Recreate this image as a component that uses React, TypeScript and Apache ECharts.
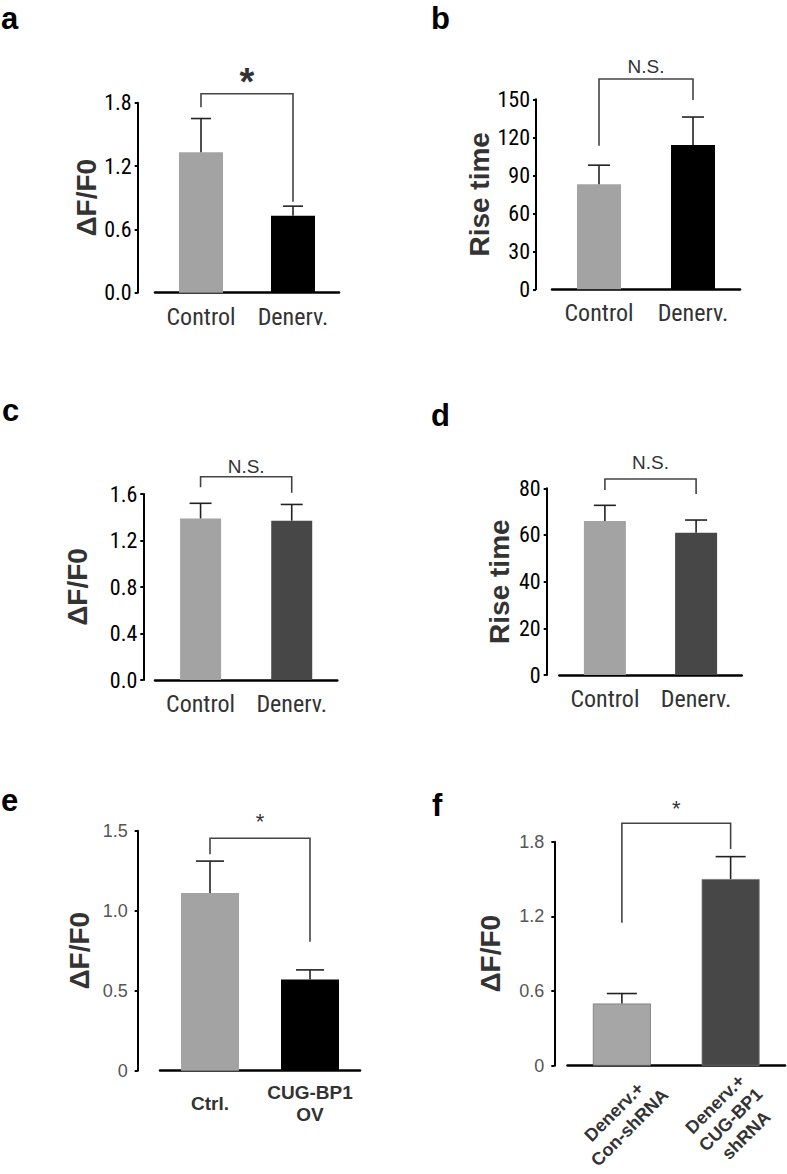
import React, { useEffect, useRef } from "react";
import * as echarts from "echarts";

// ---------- data ----------
const catsControl = ["Control", "Denerv."];
const catsE = ["Ctrl.", "CUG-BP1\nOV"];
const catsF = ["Denerv.+\nCon-shRNA", "Denerv.+\nCUG-BP1\nshRNA"];

const aMeans = [1.33, 0.73];
const aErrs = [0.32, 0.09];
const bMeans = [83, 114];
const bErrs = [15, 22];
const cMeans = [1.39, 1.37];
const cErrs = [0.13, 0.14];
const dMeans = [66, 61];
const dErrs = [6.7, 5.4];
const eMeans = [1.11, 0.57];
const eErrs = [0.2, 0.06];
const fMeans = [0.5, 1.5];
const fErrs = [0.08, 0.18];

const aTicks = [0, 0.6, 1.2, 1.8];
const aTickLabels = ["0.0", "0.6", "1.2", "1.8"];
const bTicks = [0, 30, 60, 90, 120, 150];
const bTickLabels = ["0", "30", "60", "90", "120", "150"];
const cTicks = [0, 0.4, 0.8, 1.2, 1.6];
const cTickLabels = ["0.0", "0.4", "0.8", "1.2", "1.6"];
const dTicks = [0, 20, 40, 60, 80];
const dTickLabels = ["0", "20", "40", "60", "80"];
const eTicks = [0, 0.5, 1.0, 1.5];
const eTickLabels = ["0", "0.5", "1.0", "1.5"];
const fTicks = [0, 0.6, 1.2, 1.8];
const fTickLabels = ["0", "0.6", "1.2", "1.8"];

// bracket: [top, left foot, right foot], significance label and its level
const aBracket = [1.885, 1.756, 0.862];
const aSig = "*";
const aSigY = 1.993;
const bBracket = [166, 113.4, 149.4];
const bSig = "N.S.";
const bSigY = 175.8;
const cBracket = [1.749, 1.658, 1.611];
const cSig = "N.S.";
const cSigY = 1.835;
const dBracket = [84, 79.3, 77.6];
const dSig = "N.S.";
const dSigY = 91;
const eBracket = [1.4525, 1.3525, 0.806];
const eSig = "*";
const eSigY = 1.555;
const fBracket = [1.948, 1.149, 1.741];
const fSig = "*";
const fSigY = 2.07;

const yNameDF = "ΔF/F0";
const yNameRise = "Rise time";
const panelLetters = ["a", "b", "c", "d", "e", "f"];

// ---------- styles ----------
const NARROW =
  "'Liberation Sans Narrow','Arial Narrow','Roboto Condensed','DejaVu Sans Condensed',sans-serif";
const SANS = "'Liberation Sans',Arial,Helvetica,sans-serif";
const GRAY = "#a3a3a3";
const BLACK = "#000000";
const DARK = "#474747";

type Panel = {
  cats: string[];
  means: number[];
  errs: number[];
  ticks: number[];
  tickLabels: string[];
  yName: string;
  bracket: number[];
  sig: string;
  sigY: number;
  colors: string[];
  kind: "ad" | "e" | "f";
  grid: { left: number; top: number; width: number; height: number };
  yOffset: number;
  nameGap: number;
  barWidth: number;
  cap: number;
  sigFont: { size: number; weight: string };
};

const panels: Panel[] = [
  {
    cats: catsControl, means: aMeans, errs: aErrs, ticks: aTicks, tickLabels: aTickLabels,
    yName: yNameDF, bracket: aBracket, sig: aSig, sigY: aSigY, colors: [GRAY, BLACK], kind: "ad",
    grid: { left: 155, top: 102.7, width: 184, height: 190 }, yOffset: 17.3, nameGap: 36,
    barWidth: 44, cap: 10, sigFont: { size: 38, weight: "bold" },
  },
  {
    cats: catsControl, means: bMeans, errs: bErrs, ticks: bTicks, tickLabels: bTickLabels,
    yName: yNameRise, bracket: bBracket, sig: bSig, sigY: bSigY, colors: [GRAY, BLACK], kind: "ad",
    grid: { left: 552, top: 99.3, width: 188, height: 190 }, yOffset: 16, nameGap: 39,
    barWidth: 44, cap: 11, sigFont: { size: 19, weight: "normal" },
  },
  {
    cats: catsControl, means: cMeans, errs: cErrs, ticks: cTicks, tickLabels: cTickLabels,
    yName: yNameDF, bracket: cBracket, sig: cSig, sigY: cSigY, colors: [GRAY, DARK], kind: "ad",
    grid: { left: 155, top: 494, width: 182.3, height: 186 }, yOffset: 11.7, nameGap: 52,
    barWidth: 41, cap: 11, sigFont: { size: 19, weight: "normal" },
  },
  {
    cats: catsControl, means: dMeans, errs: dErrs, ticks: dTicks, tickLabels: dTickLabels,
    yName: yNameRise, bracket: dBracket, sig: dSig, sigY: dSigY, colors: [GRAY, DARK], kind: "ad",
    grid: { left: 559.3, top: 488.3, width: 182.4, height: 186.7 }, yOffset: 12.6, nameGap: 33,
    barWidth: 42, cap: 11, sigFont: { size: 19, weight: "normal" },
  },
  {
    cats: catsE, means: eMeans, errs: eErrs, ticks: eTicks, tickLabels: eTickLabels,
    yName: yNameDF, bracket: eBracket, sig: eSig, sigY: eSigY, colors: [GRAY, BLACK], kind: "e",
    grid: { left: 160, top: 830.7, width: 200, height: 240 }, yOffset: 22.3, nameGap: 44,
    barWidth: 58, cap: 14, sigFont: { size: 22, weight: "normal" },
  },
  {
    cats: catsF, means: fMeans, errs: fErrs, ticks: fTicks, tickLabels: fTickLabels,
    yName: yNameDF, bracket: fBracket, sig: fSig, sigY: fSigY, colors: ["#a6a6a6", DARK], kind: "f",
    grid: { left: 567.5, top: 841.7, width: 217.5, height: 224 }, yOffset: 13.2, nameGap: 50,
    barWidth: 58, cap: 15, sigFont: { size: 22, weight: "normal" },
  },
];

// panel letters: [x, middle y]
const letterPos = [
  [1, 18.4],
  [431, 18.4],
  [2, 410.4],
  [431, 415.4],
  [1, 800.4],
  [432, 805],
];

function buildOption() {
  const grid: any[] = [];
  const xAxis: any[] = [];
  const yAxis: any[] = [];
  const series: any[] = [];

  panels.forEach((p, i) => {
    grid.push({ ...p.grid, containLabel: false, outerBoundsMode: "none" });

    let xLabel: any;
    if (p.kind === "ad") {
      xLabel = {
        interval: 0, margin: 12, color: "#333", fontFamily: NARROW, fontSize: 24,
        fontWeight: "normal",
      };
    } else if (p.kind === "e") {
      xLabel = {
        interval: 0, margin: 33, color: "#333", fontFamily: SANS, fontSize: 19,
        fontWeight: "bold", lineHeight: 22, verticalAlign: "middle", align: "center",
      };
    } else {
      xLabel = {
        interval: 0, margin: 54, color: "#333", fontFamily: SANS, fontSize: 18,
        fontWeight: "bold", lineHeight: 22, rotate: 45, align: "center", verticalAlign: "middle",
      };
    }

    xAxis.push({
      gridIndex: i,
      type: "category",
      data: p.cats,
      axisLine: { show: true, onZero: false, lineStyle: { color: "#000", width: 2.5 } },
      axisTick: { show: false },
      axisLabel: xLabel,
      splitLine: { show: false },
    });

    const yLabel =
      p.kind === "ad"
        ? { margin: 6, color: "#000", fontFamily: NARROW, fontSize: 22, fontWeight: "normal" }
        : { margin: 10, color: "#555", fontFamily: SANS, fontSize: 18, fontWeight: "normal" };

    const ticks = p.ticks;
    yAxis.push({
      gridIndex: i,
      type: "value",
      min: ticks[0],
      max: ticks[ticks.length - 1],
      interval: ticks[1] - ticks[0],
      offset: p.yOffset,
      name: p.yName,
      nameLocation: "middle",
      nameGap: p.nameGap,
      nameTextStyle: { fontFamily: SANS, fontWeight: "bold", fontSize: 28, color: "#333" },
      axisLine: { show: true, lineStyle: { color: "#000", width: 2 } },
      axisTick: { show: true, length: 3, lineStyle: { color: "#000", width: 2 } },
      splitLine: { show: false },
      axisLabel: {
        ...yLabel,
        formatter: (_v: number, idx: number) => p.tickLabels[idx] ?? String(_v),
      },
    });

    series.push({
      type: "bar",
      xAxisIndex: i,
      yAxisIndex: i,
      barWidth: p.barWidth,
      data: p.means.map((v, j) => ({
        value: v,
        itemStyle: {
          color: p.colors[j],
          borderColor: p.kind === "f" ? "#777" : p.colors[j],
          borderWidth: p.kind === "f" ? 0.8 : 0,
        },
      })),
      silent: true,
      z: 2,
    });

    series.push({
      type: "custom",
      xAxisIndex: i,
      yAxisIndex: i,
      clip: false,
      z: 3,
      silent: true,
      data: p.means.map((v, j) => [j, v, p.errs[j]]),
      renderItem: (_params: any, api: any) => {
        const x = api.value(0);
        const v = api.value(1);
        const e = api.value(2);
        const p0 = api.coord([x, v]);
        const p1 = api.coord([x, v + e]);
        const st = { stroke: "#222", lineWidth: 1.6 };
        return {
          type: "group",
          children: [
            { type: "line", shape: { x1: p0[0], y1: p0[1], x2: p1[0], y2: p1[1] }, style: st },
            { type: "line", shape: { x1: p1[0] - p.cap, y1: p1[1], x2: p1[0] + p.cap, y2: p1[1] }, style: st },
          ],
        };
      },
    });

    series.push({
      type: "custom",
      xAxisIndex: i,
      yAxisIndex: i,
      clip: false,
      z: 4,
      silent: true,
      data: [[0, p.bracket[0]]],
      renderItem: (_params: any, api: any) => {
        const [top, lf, rf] = p.bracket;
        const a = api.coord([0, lf]);
        const b = api.coord([0, top]);
        const c = api.coord([1, top]);
        const d = api.coord([1, rf]);
        const s = api.coord([0, p.sigY]);
        const mx = (b[0] + c[0]) / 2;
        return {
          type: "group",
          children: [
            {
              type: "polyline",
              shape: { points: [a, b, c, d] },
              style: { stroke: "#444", lineWidth: 1.6, fill: null },
            },
            {
              type: "text",
              x: mx,
              y: s[1],
              style: {
                text: p.sig,
                fill: "#333",
                fontSize: p.sigFont.size,
                fontWeight: p.sigFont.weight,
                fontFamily: SANS,
                align: "center",
                verticalAlign: "middle",
              },
            },
          ],
        };
      },
    });
  });

  const graphic = panelLetters.map((t, i) => ({
    type: "text",
    x: letterPos[i][0],
    y: letterPos[i][1],
    style: {
      text: t,
      fill: "#000",
      fontSize: 31,
      fontWeight: "bold",
      fontFamily: SANS,
      align: "left",
      verticalAlign: "middle",
    },
  }));

  return {
    animation: false,
    backgroundColor: "#ffffff",
    grid,
    xAxis,
    yAxis,
    series,
    graphic,
  };
}

export default function App() {
  const ref = useRef<HTMLDivElement>(null);
  useEffect(() => {
    document.body.style.margin = "0";
    if (!ref.current) return;
    const chart = echarts.init(ref.current, undefined, { renderer: "svg" });
    chart.setOption(buildOption() as any);
    return () => chart.dispose();
  }, []);
  return <div ref={ref} style={{ width: 787, height: 1174 }} />;
}
